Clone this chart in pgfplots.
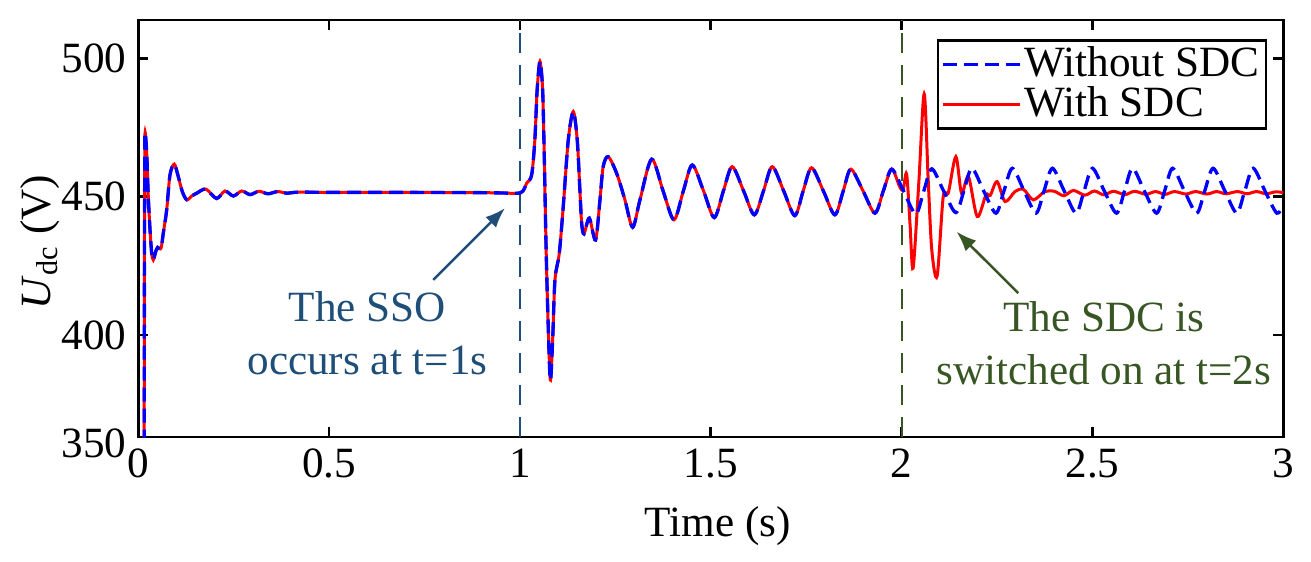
\documentclass[border=0pt]{standalone}
\usepackage{fontspec}
\setmainfont{Liberation Serif}
\usepackage{pgfplots}
\pgfplotsset{compat=1.18}
\usepackage{pgfplotstable}
\usetikzlibrary{arrows.meta}
\definecolor{ssoblue}{RGB}{31,78,121}
\definecolor{sdcgreen}{RGB}{55,86,35}

\pgfplotstableread{
t y
0.0148 300
0.0160 420
0.0167 453.6
0.0176 472.9
0.0220 465.7
0.0262 450.0
0.0307 438.0
0.0351 429.5
0.0393 427.1
0.0456 430.1
0.0508 431.6
0.0595 431.3
0.0655 436.8
0.0744 445.2
0.0830 457.8
0.0943 461.7
0.1048 457.2
0.1153 451.8
0.1270 448.8
0.1400 450.2
0.1530 451.2
0.1770 452.7
0.2050 449.3
0.2270 452.0
0.2490 450.2
0.2710 452.0
0.2930 450.7
0.3160 451.9
0.3400 451.0
0.3650 451.8
0.3900 451.2
0.4200 451.6
0.5000 451.5
0.7000 451.5
0.9000 451.4
0.9500 451.3
1.0020 451.4
1.0175 454.8
1.0306 457.8
1.0390 470.5
1.0450 488.5
1.0524 498.8
1.0594 488.5
1.0637 464.4
1.0680 434.3
1.0725 410.2
1.0794 383.7
1.0856 398.2
1.0917 419.9
1.1030 429.5
1.1134 446.4
1.1266 470.5
1.1397 480.7
1.1500 470.5
1.1570 452.4
1.1616 440.4
1.1677 436.5
1.1816 442.2
1.1980 434.3
1.2096 448.8
1.2180 460.8
1.2313 464.4
1.2533 458.4
1.2750 448.8
1.2952 438.9
1.3144 448.8
1.3450 463.5
1.3750 452.0
1.4035 441.6
1.4280 452.0
1.4515 461.4
1.4810 452.0
1.5090 442.4
1.5330 452.0
1.5560 460.8
1.5860 452.0
1.6140 443.4
1.6380 452.0
1.6610 460.8
1.6910 452.0
1.7200 443.1
1.7420 452.0
1.7640 460.4
1.7950 452.0
1.8250 443.4
1.8470 452.0
1.8670 459.9
1.8990 452.0
1.9300 444.0
1.9520 452.0
1.9740 459.9
2.0050 452.0
2.0370 443.7
2.0580 452.0
2.0790 460.0
2.1100 452.0
2.1420 444.2
2.1630 452.0
2.1840 460.2
2.2150 452.0
2.2470 444.0
2.2680 452.0
2.2900 460.2
2.3210 452.0
2.3520 444.0
2.3730 452.0
2.3950 460.2
2.4260 452.0
2.4570 444.0
2.4780 452.0
2.5000 460.2
2.5310 452.0
2.5630 444.0
2.5840 452.0
2.6050 460.2
2.6360 452.0
2.6680 444.0
2.6890 452.0
2.7100 460.2
2.7410 452.0
2.7730 444.0
2.7940 452.0
2.8160 460.2
2.8470 452.0
2.8780 444.0
2.8990 452.0
2.9210 460.2
2.9520 452.0
2.9830 444.0
3.0000 447.0
}\blueData

\pgfplotstableread{
t y
0.0148 300
0.0160 420
0.0167 453.6
0.0176 472.9
0.0220 465.7
0.0262 450.0
0.0307 438.0
0.0351 429.5
0.0393 427.1
0.0456 430.1
0.0508 431.6
0.0595 431.3
0.0655 436.8
0.0744 445.2
0.0830 457.8
0.0943 461.7
0.1048 457.2
0.1153 451.8
0.1270 448.8
0.1400 450.2
0.1530 451.2
0.1770 452.7
0.2050 449.3
0.2270 452.0
0.2490 450.2
0.2710 452.0
0.2930 450.7
0.3160 451.9
0.3400 451.0
0.3650 451.8
0.3900 451.2
0.4200 451.6
0.5000 451.5
0.7000 451.5
0.9000 451.4
0.9500 451.3
1.0020 451.4
1.0175 454.8
1.0306 457.8
1.0390 470.5
1.0450 488.5
1.0524 498.8
1.0594 488.5
1.0637 464.4
1.0680 434.3
1.0725 410.2
1.0794 383.7
1.0856 398.2
1.0917 419.9
1.1030 429.5
1.1134 446.4
1.1266 470.5
1.1397 480.7
1.1500 470.5
1.1570 452.4
1.1616 440.4
1.1677 436.5
1.1816 442.2
1.1980 434.3
1.2096 448.8
1.2180 460.8
1.2313 464.4
1.2533 458.4
1.2750 448.8
1.2952 438.9
1.3144 448.8
1.3450 463.5
1.3750 452.0
1.4035 441.6
1.4280 452.0
1.4515 461.4
1.4810 452.0
1.5090 442.4
1.5330 452.0
1.5560 460.8
1.5860 452.0
1.6140 443.4
1.6380 452.0
1.6610 460.8
1.6910 452.0
1.7200 443.1
1.7420 452.0
1.7640 460.4
1.7950 452.0
1.8250 443.4
1.8470 452.0
1.8670 459.9
1.8990 452.0
1.9300 444.0
1.9520 452.0
1.9740 459.9
1.9950 453.5
2.0040 452.5
2.0130 458.2
2.0220 440.0
2.0300 424.1
2.0450 455.0
2.0590 487.1
2.0696 456.0
2.0790 430.7
2.0930 421.3
2.1090 450.0
2.1220 451.2
2.1420 464.4
2.1570 451.2
2.1750 457.2
2.1980 442.8
2.2210 450.6
2.2320 450.4
2.2500 455.4
2.2710 448.2
2.2970 451.8
2.3190 452.6
2.3450 448.8
2.3750 451.8
2.4000 451.9
2.4250 450.3
2.4500 452.2
2.4800 450.5
2.5050 452.0
2.5300 450.6
2.5550 451.9
2.5850 450.7
2.6100 451.9
2.6400 450.8
2.6650 451.8
2.6900 450.8
2.7150 451.8
2.7450 450.9
2.7700 451.8
2.8000 450.9
2.8250 451.8
2.8500 451.0
2.8800 451.8
2.9050 451.0
2.9300 451.8
2.9550 451.0
2.9800 451.7
3.0000 451.4
}\redData

\begin{document}
\begin{tikzpicture}
\begin{axis}[
  name=ax,
  scale only axis,
  width=343.5bp, height=125.1bp,
  xmin=0, xmax=3, ymin=363.1, ymax=513.8,
  xtick={0,0.5,1,1.5,2,2.5,3},
  ytick={400,450,500},
  extra y ticks={363.1},
  extra y tick labels={350},
  extra y tick style={yticklabel style={yshift=-2bp}},
  /pgf/number format/assume math mode=true,
  font=\fontsize{13}{16}\selectfont,
  tick label style={font=\fontsize{13}{16}\selectfont},
  axis line style={line width=0.8bp},
  every tick/.style={black, line width=0.8bp},
  major tick length=3bp,
  tick align=inside,
  xlabel={Time (s)},
  xlabel style={at={(rel axis cs:0.506,-0.214)}, anchor=center},
  ylabel={\textit{U}\textsubscript{dc} (V)},
  ylabel style={at={(rel axis cs:-0.0858,0.4676)}, anchor=center},
  legend style={at={(rel axis cs:0.9858,0.9544)}, anchor=north east,
    draw=black, line width=0.75bp, inner xsep=1bp, inner ysep=0.5bp,
    row sep=-1.5bp, font=\fontsize{13}{15}\selectfont,
    nodes={inner xsep=1bp, inner ysep=1.5bp}},
  legend cell align=left,
  legend image code/.code={\draw[#1] (0bp,0bp) -- (23bp,0bp);},
]
\addplot[ssoblue, line width=0.6bp, dash pattern=on 6bp off 3.6bp, forget plot] coordinates {(1,363.1) (1,513.8)};
\addplot[sdcgreen, line width=0.6bp, dash pattern=on 6bp off 3.6bp, forget plot] coordinates {(2,363.1) (2,513.8)};
\addplot[red, line width=0.9bp, smooth, forget plot] table {\redData};
\addplot[blue, line width=1bp, smooth, dash pattern=on 4.2bp off 2.1bp] table {\blueData};
\addlegendentry{Without SDC}
\addlegendimage{red, line width=0.9bp}
\addlegendentry{With SDC}

\draw[ssoblue, line width=0.75bp, -{Latex[length=6bp,width=4.5bp]}] (axis cs:0.7729,419.9) -- (axis cs:0.9607,445.8);
\node[ssoblue, align=center, font=\fontsize{13}{16}\selectfont] at (axis cs:0.6005,400.7) {The SSO\\occurs at t=1s};
\draw[sdcgreen, line width=0.75bp, -{Latex[length=6bp,width=4.5bp]}] (axis cs:2.3055,415.1) -- (axis cs:2.144,437.3);
\node[sdcgreen, align=center, font=\fontsize{13}{16}\selectfont] at (axis cs:2.530,397.0) {The SDC is\\switched on at t=2s};
\end{axis}
\pgfresetboundingbox
\path[use as bounding box] (ax.south west) ++(-41.49bp,-37.2bp) rectangle ++(393.3bp,168.3bp);
\end{tikzpicture}
\end{document}
